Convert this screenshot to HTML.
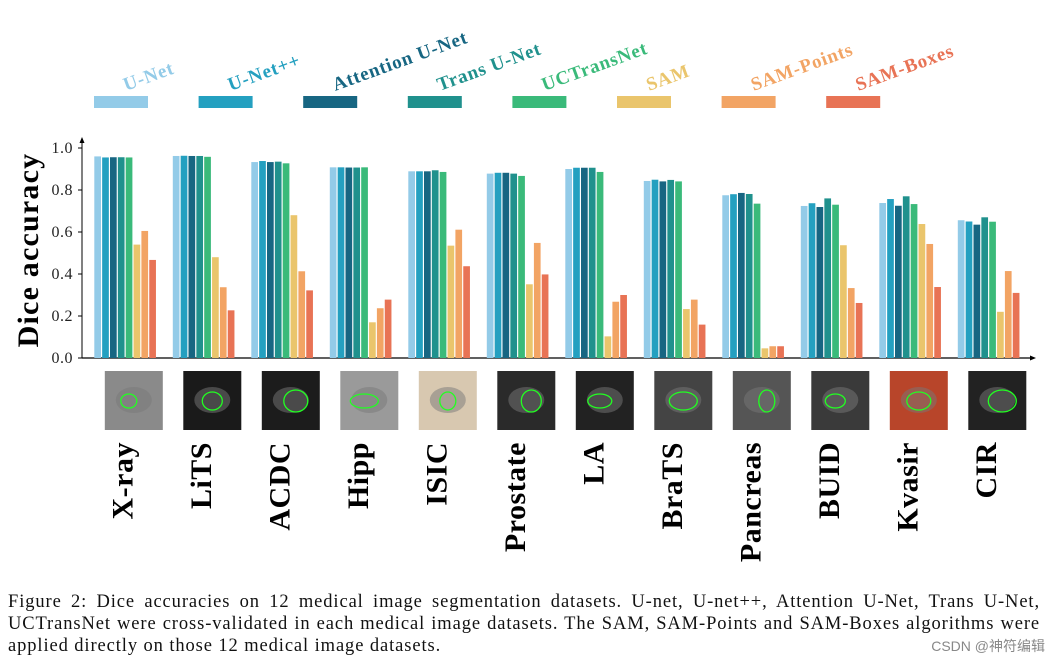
<!DOCTYPE html>
<html><head><meta charset="utf-8">
<style>
body{margin:0;background:#fff;width:1053px;height:664px;overflow:hidden;font-family:"Liberation Serif",serif;}
.cap{position:absolute;left:8px;width:1032px;font-size:18.5px;letter-spacing:0.9px;line-height:22px;text-align:justify;color:#111;white-space:nowrap;}
.cap.j{text-align-last:justify;white-space:normal;}
#wm{position:absolute;right:8px;top:636px;font-family:"Liberation Sans","Noto Sans CJK SC",sans-serif;font-size:14px;color:#888;}
</style></head><body>
<svg id="chart" width="1053" height="590" style="position:absolute;left:0;top:0" xmlns="http://www.w3.org/2000/svg"></svg>
<div class="cap j" style="top:591px">Figure 2: Dice accuracies on 12 medical image segmentation datasets. U-net, U-net++, Attention U-Net, Trans U-Net,</div>
<div class="cap j" style="top:613px">UCTransNet were cross-validated in each medical image datasets. The SAM, SAM-Points and SAM-Boxes algorithms were</div>
<div class="cap" style="top:635px">applied directly on those 12 medical image datasets.</div>
<div id="wm">CSDN @神符编辑</div>
<script>
const categories=["X-ray","LiTS","ACDC","Hipp","ISIC","Prostate","LA","BraTS","Pancreas","BUID","Kvasir","CIR"];
const seriesNames=["U-Net","U-Net++","Attention U-Net","Trans U-Net","UCTransNet","SAM","SAM-Points","SAM-Boxes"];
const unet=[0.960,0.962,0.933,0.908,0.889,0.878,0.900,0.843,0.775,0.724,0.738,0.656];
const unetpp=[0.955,0.963,0.938,0.908,0.889,0.882,0.906,0.849,0.780,0.737,0.757,0.650];
const attUnet=[0.956,0.962,0.933,0.907,0.889,0.882,0.906,0.841,0.786,0.719,0.725,0.635];
const transUnet=[0.956,0.962,0.935,0.907,0.894,0.878,0.906,0.848,0.781,0.760,0.770,0.670];
const uctrans=[0.955,0.958,0.927,0.908,0.886,0.867,0.886,0.841,0.735,0.730,0.733,0.649];
const sam=[0.540,0.480,0.680,0.170,0.535,0.351,0.103,0.233,0.046,0.537,0.638,0.220];
const samPoints=[0.605,0.337,0.413,0.237,0.611,0.548,0.268,0.278,0.056,0.333,0.543,0.414];
const samBoxes=[0.467,0.227,0.322,0.278,0.437,0.398,0.300,0.159,0.056,0.262,0.338,0.310];
const yTicks=[0.0,0.2,0.4,0.6,0.8,1.0];
const series=[unet,unetpp,attUnet,transUnet,uctrans,sam,samPoints,samBoxes];
const colors=["#93cbe8","#24a0c0","#176682","#20918d","#3aba7a","#eac56c","#f2a464","#e87355"];
const NS="http://www.w3.org/2000/svg";
const svg=document.getElementById('chart');
function mk(t,a,p){const e=document.createElementNS(NS,t);for(const k in a)e.setAttribute(k,a[k]);(p||svg).appendChild(e);return e;}
const y0=358,ypx=210;
const y=v=>y0-v*ypx;
const groupX=i=>94.3+i*78.5;
const barW=6.7,barStep=7.85;
seriesNames.forEach((n,i)=>{
  const lx=94+i*104.6;
  const r=mk('rect',{x:lx,y:96,width:54,height:12,fill:colors[i]});
  
  
  const t=mk('text',{x:lx+32,y:91,fill:colors[i],'font-size':19,'font-weight':'bold','letter-spacing':0.8,'font-family':'"Liberation Serif",serif',transform:`rotate(-20 ${lx+32} 91)`});
  t.textContent=n;
  
  
});
const ax=mk('g',{});


mk('line',{x1:82,y1:141,x2:82,y2:y0,stroke:'#000','stroke-width':1},ax);
mk('path',{d:'M79.5,143 L82,137 L84.5,143 Z',fill:'#000'},ax);
yTicks.forEach(v=>{
  mk('line',{x1:78,y1:y(v),x2:82,y2:y(v),stroke:'#000'},ax);
  const t=mk('text',{x:73,y:y(v)+5,'text-anchor':'end','font-size':16,'letter-spacing':0.5,fill:'#222'},ax);
  t.textContent=v.toFixed(1);
});
const yt=mk('text',{x:38,y:250,'text-anchor':'middle','font-size':30,'font-weight':'bold','letter-spacing':1.2,fill:'#000',transform:'rotate(-90 38 250)'});
yt.textContent='Dice accuracy';


const xa=mk('line',{x1:82,y1:y0,x2:1032,y2:y0,stroke:'#000','stroke-width':1.3});


mk('path',{d:'M1030,355.5 L1036,358 L1030,360.5 Z',fill:'#000'});
categories.forEach((c,i)=>{
  series.forEach((s,j)=>{
    const bx=groupX(i)+j*barStep;
    const b=mk('rect',{x:bx,y:y(s[i]),width:barW,height:s[i]*ypx,fill:colors[j]});
    
    
  });
  const tx=groupX(i)+10.5;
  const g=mk('g',{});
  
  
  const bg=['#8a8a8a','#1a1a1a','#1c1c1c','#9a9a9a','#d8c8b0','#2a2a2a','#222','#444','#555','#3a3a3a','#b8452a','#222'][i];
  mk('rect',{x:tx,y:371,width:58,height:59,fill:bg},g);
  mk('ellipse',{cx:tx+29,cy:400,rx:18,ry:13,fill:'#777',opacity:0.5},g);
  mk('ellipse',{cx:tx+29+(i%3-1)*5,cy:401,rx:8+(i%4)*2,ry:7+(i%3)*2,fill:'none',stroke:'#2f2',"stroke-width":1.3},g);
  const lx=groupX(i)+38,ly=442;
  const t=mk('text',{x:lx,y:ly,'text-anchor':'end','font-size':30,'font-weight':'bold','letter-spacing':0.5,fill:'#000',transform:`rotate(-90 ${lx} ${ly})`});
  t.textContent=c;
  
  
});
</script>
</body></html>
